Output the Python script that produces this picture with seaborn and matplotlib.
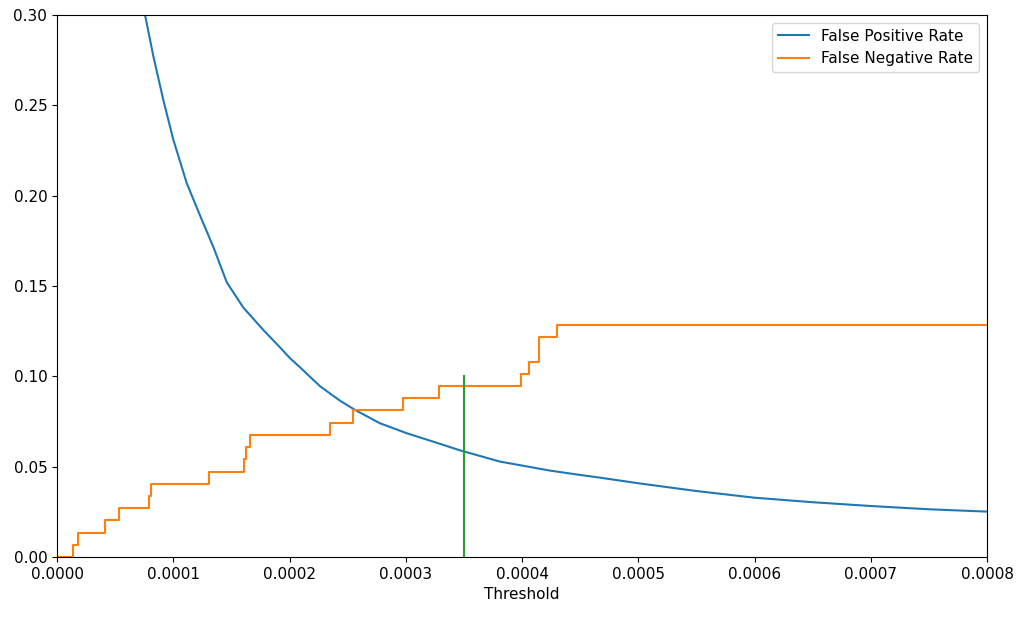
import numpy as np
import pandas as pd
import matplotlib
matplotlib.use('Agg')
import matplotlib.pyplot as plt
import seaborn as sns

# False positive rate curve
fpr_threshold = [0.000070, 0.0000757, 0.0000829, 0.0000914, 0.0001000, 0.0001115, 0.0001230,
                 0.0001345, 0.0001460, 0.0001603, 0.0001775, 0.0001918, 0.0002004, 0.0002090,
                 0.0002262, 0.0002434, 0.0002563, 0.0002778, 0.0003008, 0.0003237, 0.0003467,
                 0.0003810, 0.0004241, 0.0004499, 0.0004671, 0.0005000, 0.0005500, 0.0006000,
                 0.0006500, 0.0007000, 0.0007500, 0.0008000]
fpr_values = [0.318, 0.300, 0.277, 0.253, 0.231, 0.207, 0.189,
              0.1715, 0.1520, 0.1380, 0.1256, 0.1160, 0.1100, 0.1050,
              0.0945, 0.0865, 0.0814, 0.0740, 0.0685, 0.0638, 0.0590,
              0.0528, 0.0478, 0.0454, 0.0439, 0.0408, 0.0365, 0.0328,
              0.0303, 0.0282, 0.0264, 0.0251]

# False negative rate steps
fnr_threshold = [0.0, 0.0000135, 0.0000178, 0.0000413, 0.0000533, 0.0000789, 0.0000806,
                 0.0001308, 0.0001611, 0.0001626, 0.0001660, 0.0002348, 0.0002544,
                 0.0002974, 0.0003289, 0.0003991, 0.0004063, 0.0004149, 0.0004298, 0.0008]
fnr_values = [0.0, 0.0068, 0.0135, 0.0203, 0.0270, 0.0338, 0.0405,
              0.0473, 0.0541, 0.0608, 0.0676, 0.0743, 0.0811,
              0.0878, 0.0946, 0.1014, 0.1081, 0.1216, 0.1284, 0.1284]

# chosen threshold marker
cut_threshold = [0.00035, 0.00035]
cut_values = [0.0, 0.10]

plt.rcParams['font.size'] = 11

fig = plt.figure(figsize=(10.26, 6.23), dpi=100)
ax = fig.add_axes([0.0556, 0.106, 0.9064, 0.870])

sns.lineplot(x=fpr_threshold, y=fpr_values, ax=ax, color='#1f77b4',
             linewidth=1.5, label='False Positive Rate', sort=False)
sns.lineplot(x=fnr_threshold, y=fnr_values, ax=ax, color='#ff7f0e',
             linewidth=1.5, drawstyle='steps-post', label='False Negative Rate', sort=False)
ax.plot(cut_threshold, cut_values, color='#2ca02c', linewidth=1.5)

ax.set_xlim(0, 0.0008)
ax.set_ylim(0, 0.30)
ax.set_xticks(np.arange(0, 0.00081, 0.0001))
ax.set_xticklabels([f'{t:.4f}' for t in np.arange(0, 0.00081, 0.0001)])
ax.set_yticks(np.arange(0, 0.301, 0.05))
ax.set_yticklabels([f'{t:.2f}' for t in np.arange(0, 0.301, 0.05)])
ax.set_xlabel('Threshold')
ax.set_ylabel('')
ax.legend(loc='upper right')

fig.savefig('out.png', dpi=100)
plt.close(fig)
